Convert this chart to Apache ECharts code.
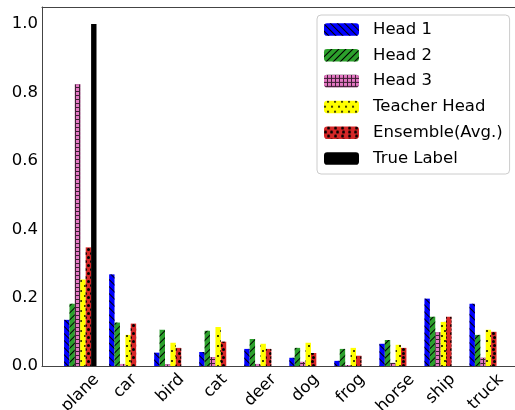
<!DOCTYPE html>
<html>
<head>
<meta charset="utf-8">
<script src="https://cdn.jsdelivr.net/npm/echarts@6/dist/echarts.min.js"></script>
<style>
html,body{margin:0;padding:0;background:#fff;}
#chart{width:515px;height:410px;}
</style>
</head>
<body>
<div id="chart"></div>
<script>
const categories = ['plane','car','bird','cat','deer','dog','frog','horse','ship','truck'];
const head1 = [0.135,0.268,0.039,0.041,0.050,0.024,0.015,0.065,0.197,0.182];
const head2 = [0.182,0.127,0.106,0.103,0.079,0.053,0.050,0.076,0.144,0.091];
const head3 = [0.824,0.006,0.005,0.026,0.006,0.012,0.003,0.009,0.099,0.024];
const teacher = [0.253,0.091,0.068,0.114,0.065,0.068,0.053,0.062,0.129,0.106];
const ensemble = [0.347,0.124,0.053,0.071,0.050,0.038,0.030,0.053,0.144,0.100];
const trueLabel = [1.0,0,0,0,0,0,0,0,0,0];
const yTicks = [0,0.2,0.4,0.6,0.8,1.0];

const FONT = 'DejaVu Sans';
const FS = 16.5;

// measure label widths to emulate matplotlib's centered rotated labels
const cv = document.createElement('canvas').getContext('2d');
cv.font = FS + 'px "' + FONT + '"';
const widths = categories.map(c => cv.measureText(c).width);
const wmin = Math.min.apply(null, widths);
const rich = {};
categories.forEach((c, i) => {
  const d = (widths[i] - wmin) / 2;
  rich['p' + i] = {fontSize: FS, fontFamily: FONT, color: '#000', padding: [d, d, 0, 0]};
});

const chart = echarts.init(document.getElementById('chart'), null, {renderer: 'canvas'});

function mk(name, data, color, decal) {
  const s = {
    name: name, type: 'bar', xAxisIndex: 0, yAxisIndex: 0,
    data: data.map((v, i) => [i, v]),
    barWidth: '12%', barGap: '0%',
    itemStyle: {color: color},
    emphasis: {disabled: true}
  };
  if (decal) s.itemStyle.decal = decal;
  return s;
}

const option = {
  animation: false,
  backgroundColor: '#fff',
  grid: {left: 42, top: 7, bottom: 44, right: -9, containLabel: false, outerBoundsMode: 'none'},
  legend: {
    orient: 'vertical', left: 317, top: 15,
    itemWidth: 35, itemHeight: 12.5, itemGap: 8.8,
    padding: [6, 7, 7, 7],
    borderColor: '#cccccc', borderWidth: 1, borderRadius: 4,
    backgroundColor: 'rgba(255,255,255,0.85)',
    textStyle: {fontSize: FS, fontFamily: FONT, color: '#000', padding: [0, 0, 0, 9]},
    data: ['Head 1','Head 2','Head 3','Teacher Head','Ensemble(Avg.)','True Label']
  },
  xAxis: [{
    type: 'value', min: -0.85, max: 9.85, position: 'bottom',
    axisLine: {show: true, onZero: false, lineStyle: {color: '#444', width: 1}},
    axisTick: {show: false, customValues: [0,1,2,3,4,5,6,7,8,9]},
    splitLine: {show: false},
    axisLabel: {
      customValues: [0,1,2,3,4,5,6,7,8,9],
      rotate: 45, align: 'center', verticalAlign: 'middle', margin: 20,
      fontSize: FS, fontFamily: FONT, color: '#000',
      formatter: function (v) { const i = Math.round(v); return '{p' + i + '|' + categories[i] + '}'; },
      rich: rich
    }
  }, {
    type: 'value', min: -0.85, max: 9.85, position: 'top',
    axisLine: {show: true, onZero: false, lineStyle: {color: '#444', width: 1}},
    axisTick: {show: false}, axisLabel: {show: false}, splitLine: {show: false}
  }],
  yAxis: {
    type: 'value', min: 0, max: 1.05, interval: 0.2,
    axisLine: {show: true, onZero: false, lineStyle: {color: '#444', width: 1}},
    axisTick: {show: false},
    splitLine: {show: false},
    axisLabel: {
      customValues: yTicks,
      margin: 4, fontSize: FS, fontFamily: FONT, color: '#000',
      formatter: v => v.toFixed(1)
    }
  },
  series: [
    mk('Head 1', head1, '#0000ff', {symbol: 'rect', symbolSize: 1, dashArrayX: [1, 0], dashArrayY: [1, 4], rotation: Math.PI / 4, color: '#000'}),
    mk('Head 2', head2, '#2ca02c', {symbol: 'rect', symbolSize: 1, dashArrayX: [1, 0], dashArrayY: [1, 4], rotation: -Math.PI / 4, color: '#000'}),
    mk('Head 3', head3, '#3d1f33', {symbol: 'rect', symbolSize: 1, dashArrayX: [3, 1], dashArrayY: [3, 1], color: '#e377c2'}),
    mk('Teacher Head', teacher, '#ffff00', {symbol: 'circle', symbolSize: 1, dashArrayX: [[1.5, 4.5], [0, 3, 1.5, 1.5]], dashArrayY: [1.5, 2.5], color: '#000'}),
    mk('Ensemble(Avg.)', ensemble, '#d62728', {symbol: 'circle', symbolSize: 1, dashArrayX: [[2.4, 3], [0, 2.7, 2.4, 0.3]], dashArrayY: [2.4, 1], color: '#000'}),
    mk('True Label', trueLabel, '#000000', null)
  ]
};
chart.setOption(option);
</script>
</body>
</html>
